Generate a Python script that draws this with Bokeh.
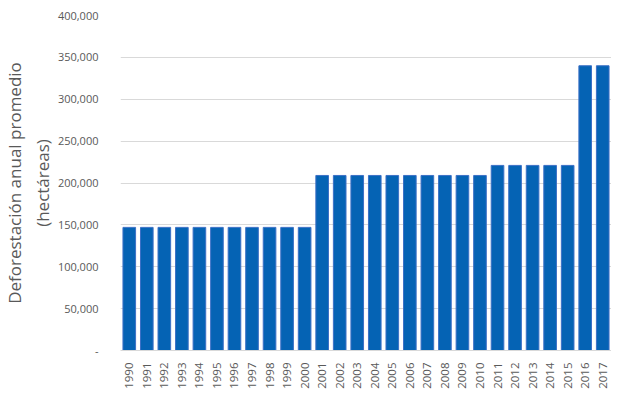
import math
from bokeh.plotting import figure
from bokeh.models import FactorRange, Range1d, SingleIntervalTicker, NumeralTickFormatter
from bokeh.embed import file_html
from bokeh.resources import INLINE

years = [str(y) for y in range(1990, 2018)]
values = [147000] * 11 + [209000] * 10 + [221000] * 5 + [340000] * 2

p = figure(x_range=FactorRange(factors=years, range_padding=0), y_range=Range1d(0, 400000),
           width=611, height=391, output_backend="svg", toolbar_location=None,
           min_border_left=4, min_border_right=0, min_border_top=15, min_border_bottom=5)
p.vbar(x=years, top=values, width=0.72, fill_color="#0563B4", line_color="#3C70C6", line_width=1)

p.outline_line_color = None
p.xgrid.grid_line_color = None
p.ygrid.grid_line_color = "#D9D9D9"
p.yaxis.ticker = SingleIntervalTicker(interval=50000)
p.yaxis.formatter = NumeralTickFormatter(format="0,0")
p.yaxis.major_label_overrides = {0: "-"}
p.yaxis.axis_line_color = None
p.yaxis.major_tick_line_color = None
p.yaxis.minor_tick_line_color = None
p.yaxis.major_label_text_color = "#595959"
p.yaxis.major_label_text_font = "Open Sans"
p.yaxis.major_label_text_font_size = "11px"
p.yaxis.major_label_standoff = 16
p.yaxis.axis_label = "Deforestación anual promedio\n(hectáreas)"
p.yaxis.axis_label_text_font = "Open Sans"
p.yaxis.axis_label_text_font_style = "normal"
p.yaxis.axis_label_text_font_size = "17px"
p.yaxis.axis_label_text_color = "#595959"
p.yaxis.axis_label_standoff = 1

p.xaxis.axis_line_color = "#D9D9D9"
p.xaxis.major_tick_line_color = None
p.xaxis.minor_tick_line_color = None
p.xaxis.major_label_orientation = math.pi / 2
p.xaxis.major_label_text_color = "#595959"
p.xaxis.major_label_text_font = "Open Sans"
p.xaxis.major_label_text_font_size = "11.5px"
p.xaxis.major_label_standoff = 6

open("out.html", "w").write(file_html(p, INLINE))
